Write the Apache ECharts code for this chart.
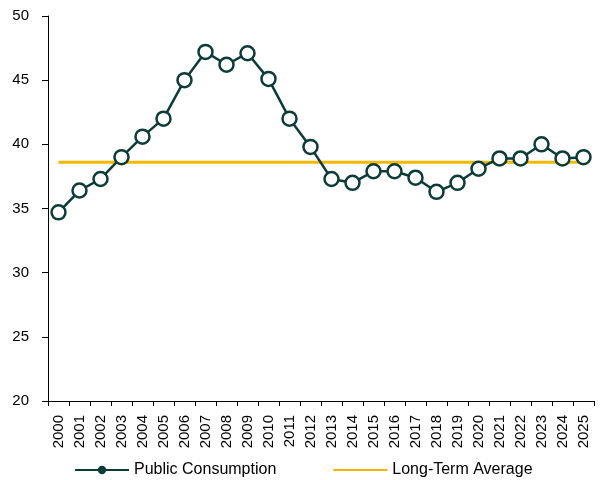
<!DOCTYPE html>
<html>
<head>
<meta charset="utf-8">
<script src="https://cdn.jsdelivr.net/npm/echarts@6/dist/echarts.min.js"></script>
<style>
  html, body { margin: 0; padding: 0; background: #fff; }
  #chart { width: 604px; height: 480px; }
</style>
</head>
<body>
<div id="chart"></div>
<script>
const years = ['2000', '2001', '2002', '2003', '2004', '2005', '2006', '2007', '2008', '2009',
  '2010', '2011', '2012', '2013', '2014', '2015', '2016', '2017', '2018', '2019',
  '2020', '2021', '2022', '2023', '2024', '2025']
const publicConsumption = [34.7, 36.4, 37.3, 39.0, 40.6, 42.0, 45.0, 47.2, 46.2, 47.1,
  45.1, 42.0, 39.8, 37.3, 37.0, 37.9, 37.9, 37.4, 36.3, 37.0,
  38.1, 38.9, 38.9, 40.0, 38.9, 39.0]
const longTermAverage = [38.6, 38.6, 38.6, 38.6, 38.6, 38.6, 38.6, 38.6, 38.6, 38.6,
  38.6, 38.6, 38.6, 38.6, 38.6, 38.6, 38.6, 38.6, 38.6, 38.6,
  38.6, 38.6, 38.6, 38.6, 38.6, 38.6]

const font = 'Liberation Sans'
const dark = '#0b3d36'
const gold = '#f5b800'

const options = {
  animation: false,
  textStyle: { fontFamily: font },
  grid: { left: 48, right: 10, top: 16, bottom: 79 },
  legend: {
    bottom: 2,
    left: 74,
    padding: 0,
    itemWidth: 54,
    itemHeight: 8,
    itemGap: 56,
    textStyle: { fontFamily: font, fontSize: 16, color: '#000' },
    data: [
      { name: 'Public Consumption', itemStyle: { color: dark } },
      { name: 'Long-Term Average', itemStyle: { opacity: 0 } }
    ]
  },
  xAxis: {
    type: 'category',
    data: years,
    boundaryGap: true,
    axisLine: { lineStyle: { color: '#000', width: 1 } },
    axisTick: { show: true, length: 5, lineStyle: { color: '#000' } },
    axisLabel: { rotate: 90, color: '#000', fontSize: 15, margin: 14, interval: 0 }
  },
  yAxis: {
    type: 'value',
    min: 20,
    max: 50,
    interval: 5,
    splitLine: { show: false },
    axisLine: { show: true, lineStyle: { color: '#000', width: 1 } },
    axisTick: { show: true, length: 6, lineStyle: { color: '#000' } },
    axisLabel: { color: '#000', fontSize: 15, margin: 19 }
  },
  series: [
    {
      name: 'Long-Term Average',
      type: 'line',
      data: longTermAverage,
      symbol: 'none',
      lineStyle: { color: gold, width: 3 },
      itemStyle: { color: gold },
      z: 1
    },
    {
      name: 'Public Consumption',
      type: 'line',
      data: publicConsumption,
      symbol: 'circle',
      symbolSize: 14,
      lineStyle: { color: dark, width: 2.5 },
      itemStyle: { color: '#fff', borderColor: dark, borderWidth: 2.5 },
      z: 2
    }
  ]
}

const chart = echarts.init(document.getElementById('chart'))
chart.setOption(options)
</script>
</body>
</html>
